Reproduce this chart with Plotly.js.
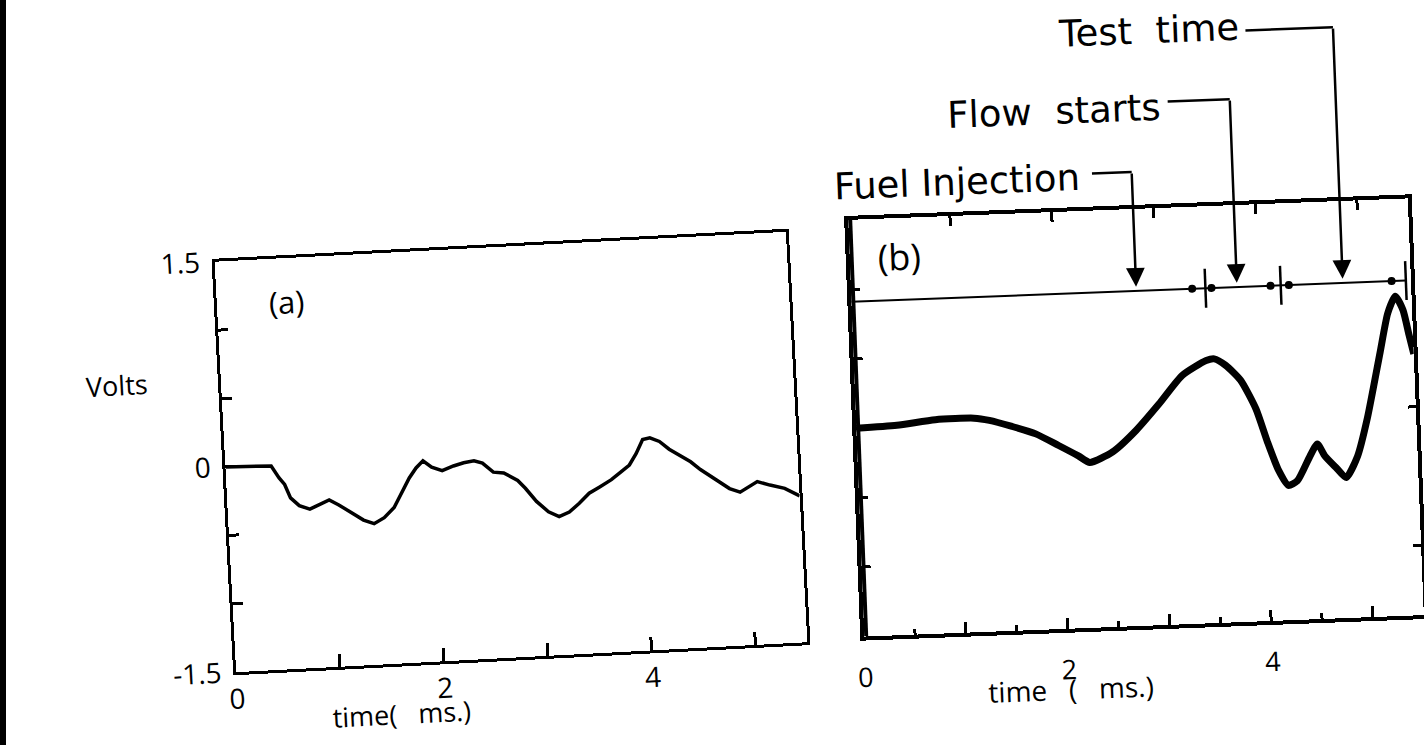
<!DOCTYPE html>
<html>
<head>
<meta charset="utf-8">
<script src="https://cdn.plot.ly/plotly-3.0.1.min.js"></script>
<style>
html,body{margin:0;padding:0;background:#fff;width:1424px;height:745px;overflow:hidden;}
#edge{position:absolute;left:0;top:0;width:6px;height:745px;background:#000;}
.panel{position:absolute;left:0;top:0;width:1424px;height:745px;}
#panelA{transform-origin:511px 452px;transform:rotate(-3deg);}
#panelB{transform-origin:1136px 417.5px;transform:rotate(-2.2deg);}
</style>
</head>
<body>
<div id="edge"></div>
<div id="panelA" class="panel"></div>
<div id="panelB" class="panel"></div>
<script>
// ---------- data: panel (a) ----------
const timeA = [0, 0.44, 0.51, 0.56, 0.61, 0.69, 0.79, 0.89, 0.98, 1.07, 1.17, 1.30, 1.40, 1.50, 1.60, 1.68, 1.76, 1.83, 1.90, 1.98, 2.08, 2.19, 2.29, 2.39, 2.47, 2.57, 2.67, 2.80, 2.87, 2.97, 3.08, 3.18, 3.28, 3.38, 3.48, 3.58, 3.70, 3.79, 3.88, 3.95, 4.02, 4.09, 4.18, 4.27, 4.37, 4.47, 4.56, 4.70, 4.83, 4.93, 5.01, 5.10, 5.22, 5.36, 5.50];
const voltsA = [0, -0.01, -0.10, -0.15, -0.25, -0.31, -0.34, -0.31, -0.28, -0.32, -0.37, -0.44, -0.47, -0.43, -0.36, -0.25, -0.15, -0.08, -0.03, -0.08, -0.11, -0.08, -0.06, -0.05, -0.07, -0.14, -0.15, -0.21, -0.27, -0.37, -0.45, -0.49, -0.46, -0.40, -0.33, -0.29, -0.24, -0.19, -0.14, -0.06, 0.04, 0.05, 0.02, -0.04, -0.09, -0.14, -0.20, -0.28, -0.35, -0.38, -0.35, -0.31, -0.34, -0.37, -0.43];

// ---------- data: panel (b) ----------
const timeB = [0, 0.40, 0.78, 1.16, 1.31, 1.53, 1.76, 1.98, 2.17, 2.28, 2.51, 2.75, 2.98, 3.22, 3.46, 3.54, 3.65, 3.79, 3.93, 4.03, 4.13, 4.22, 4.31, 4.44, 4.52, 4.59, 4.70, 4.79, 4.91, 5.02, 5.17, 5.26, 5.34, 5.41, 5.46, 5.50];
const voltsB = [0.00, 0.01, 0.04, 0.04, 0.02, -0.03, -0.09, -0.18, -0.26, -0.31, -0.24, -0.09, 0.09, 0.29, 0.39, 0.40, 0.35, 0.24, 0.03, -0.21, -0.42, -0.53, -0.50, -0.33, -0.24, -0.33, -0.42, -0.49, -0.34, -0.07, 0.40, 0.68, 0.80, 0.70, 0.52, 0.38];

// event marker line in (b)
const eventLevel = 0.91;
const eventLineEnd = 5.45;
const eventBarTimes = [3.48, 4.22, 5.45];
const eventDotTimes = [3.35, 3.54, 4.12, 4.30, 5.31];
const eventArrowTimes = [2.80, 3.79, 4.83];
const eventLabels = ["Fuel Injection", "Flow  starts", "Test  time"];

// ticks
const yTickVals = [-1.5, -1, -0.5, 0, 0.5, 1, 1.5];
const yTickTextA = ["-1.5", "", "", "0", "", "", "1.5"];
const xTickValsA = [0, 1, 2, 3, 4, 5];
const xTickTextA = ["0", "", "2", "", "4", ""];
const xTickValsB = [0, 1, 2, 3, 4, 5];
const xTickTextB = ["0", "", "2", "", "4", ""];
const xMinorValsB = [0.5, 1.5, 2.5, 3.5, 4.5];
const yTickValsB = [-1, -0.5, 0, 0.5, 1];
const yRightTickValsB = [-1, 0];

// ---------- layout helpers ----------
const W = 1424, H = 745;
const FONT = "Open Sans, DejaVu Sans, sans-serif";
const LFONT = "DejaVu Sans, sans-serif";
const K = '#000';
const cfg = {staticPlot: true, displayModeBar: false};

// ---------- panel (a) ----------
const layoutA = {
  width: W, height: H, margin: {l: 0, r: 0, t: 0, b: 0},
  paper_bgcolor: 'rgba(0,0,0,0)', plot_bgcolor: 'rgba(0,0,0,0)',
  showlegend: false,
  font: {family: FONT, color: K, size: 28},
  xaxis: {
    domain: [225 / W, 797 / W], range: [0, 5.5],
    tickmode: 'array', tickvals: xTickValsA, ticktext: xTickTextA,
    ticks: 'inside', ticklen: 13, tickwidth: 3, tickcolor: K,
    showline: true, linewidth: 3, linecolor: K, mirror: true,
    showgrid: false, zeroline: false, tickfont: {size: 28, family: FONT},
    ticklabelstandoff: 0
  },
  yaxis: {
    domain: [1 - 657.5 / H, 1 - 246.5 / H], range: [-1.5, 1.5],
    tickmode: 'array', tickvals: yTickVals, ticktext: yTickTextA,
    ticks: 'inside', ticklen: 10, tickwidth: 3, tickcolor: K,
    showline: true, linewidth: 3, linecolor: K, mirror: true,
    showgrid: false, zeroline: false, tickfont: {size: 28, family: FONT},
    ticklabelstandoff: 6
  },
  annotations: [
    {text: '(a)', xref: 'x', yref: 'y', x: 0.67, y: 1.18, xanchor: 'center', yanchor: 'middle', showarrow: false, font: {size: 31}},
    {text: 'Volts', xref: 'paper', yref: 'paper', x: 121 / W, y: 1 - 364 / H, xanchor: 'center', yanchor: 'middle', showarrow: false, font: {size: 27}},
    {text: 'time(&nbsp;&nbsp;&nbsp;ms.)', xref: 'paper', yref: 'paper', x: 388 / W, y: 1 - 707 / H, xanchor: 'center', yanchor: 'middle', showarrow: false, font: {size: 27}}
  ]
};
const tracesA = [
  {x: timeA, y: voltsA, mode: 'lines', line: {color: K, width: 3.5}, hoverinfo: 'skip'}
];
Plotly.newPlot('panelA', tracesA, layoutA, cfg);

// ---------- panel (b) ----------
const yPx = v => 626 - (v + 1.5) * 139;        // pixel height of a level, for arrow tail offsets
const headLevel = eventLevel + 0.03;
const leaderPx = [172, 103, 35];
const leaderStart = [2.41, 3.18, 3.97];
const labelRight = [2.31, 3.12, 3.93];
const labelPx = [176, 108, 31];

const barX = [], barY = [];
eventBarTimes.forEach(t => { barX.push(t, t, null); barY.push(eventLevel - 0.14, eventLevel + 0.14, null); });

const annB = [
  {text: '(b)', xref: 'x', yref: 'y', x: 0.49, y: 1.22, xanchor: 'center', yanchor: 'middle', showarrow: false, font: {size: 36}},
  {text: 'time&nbsp;&nbsp;&nbsp;(&nbsp;&nbsp;&nbsp;ms.)', xref: 'paper', yref: 'paper', x: 1060 / W, y: 1 - 686 / H, xanchor: 'center', yanchor: 'middle', showarrow: false, font: {size: 28}}
];
const shapesB = [
  {type: 'line', xref: 'x', yref: 'y', x0: 0, x1: 0, y0: -1.5, y1: 1.5, line: {color: K, width: 8}}
];
eventArrowTimes.forEach((t, i) => {
  annB.push({
    text: '', xref: 'x', yref: 'y', x: t, y: headLevel,
    axref: 'pixel', ayref: 'pixel', ax: 0, ay: -(yPx(headLevel) - leaderPx[i]),
    showarrow: true, arrowhead: 2, arrowsize: 1.5, arrowwidth: 2.5, arrowcolor: K
  });
  annB.push({
    text: eventLabels[i], xref: 'x', yref: 'paper', x: labelRight[i], y: 1 - labelPx[i] / H,
    xanchor: 'right', yanchor: 'middle', showarrow: false, font: {size: 37, family: LFONT}
  });
  shapesB.push({type: 'line', xref: 'x', yref: 'paper', x0: leaderStart[i], x1: t,
    y0: 1 - leaderPx[i] / H, y1: 1 - leaderPx[i] / H, line: {color: K, width: 2.5}});
});

const layoutB = {
  width: W, height: H, margin: {l: 0, r: 0, t: 0, b: 0},
  paper_bgcolor: 'rgba(0,0,0,0)', plot_bgcolor: 'rgba(0,0,0,0)',
  showlegend: false,
  font: {family: FONT, color: K, size: 28},
  xaxis: {
    domain: [856 / W, 1416 / W], range: [0, 5.5],
    tickmode: 'array', tickvals: xTickValsB, ticktext: xTickTextB,
    ticks: 'inside', ticklen: 11, tickwidth: 3, tickcolor: K,
    minor: {tickmode: 'array', tickvals: xMinorValsB, ticks: 'inside', ticklen: 6, tickwidth: 3, tickcolor: K, showgrid: false},
    showline: true, linewidth: 4, linecolor: K, mirror: true,
    showgrid: false, zeroline: false, tickfont: {size: 27, family: FONT},
    ticklabelstandoff: 14
  },
  xaxis2: {
    overlaying: 'x', side: 'top', anchor: 'y', range: [0, 5.5],
    tickmode: 'array', tickvals: [1, 2, 3, 4, 5],
    ticks: 'inside', ticklen: 10, tickwidth: 3, tickcolor: K,
    showticklabels: false, showline: false, showgrid: false, zeroline: false
  },
  yaxis: {
    domain: [1 - 626 / H, 1 - 209 / H], range: [-1.5, 1.5],
    tickmode: 'array', tickvals: yTickValsB,
    ticks: 'inside', ticklen: 9, tickwidth: 3, tickcolor: K,
    showticklabels: false,
    showline: true, linewidth: 4, linecolor: K, mirror: true,
    showgrid: false, zeroline: false
  },
  yaxis2: {
    overlaying: 'y', side: 'right', anchor: 'x', range: [-1.5, 1.5],
    tickmode: 'array', tickvals: yRightTickValsB,
    ticks: 'inside', ticklen: 8, tickwidth: 3, tickcolor: K,
    showticklabels: false, showline: false, showgrid: false, zeroline: false
  },
  shapes: shapesB,
  annotations: annB
};
const tracesB = [
  {x: timeB, y: voltsB, mode: 'lines', line: {color: K, width: 7, shape: 'spline', smoothing: 0.6}, hoverinfo: 'skip'},
  {x: [0, eventLineEnd], y: [eventLevel, eventLevel], mode: 'lines', line: {color: K, width: 2}, hoverinfo: 'skip'},
  {x: barX, y: barY, mode: 'lines', line: {color: K, width: 2.5}, hoverinfo: 'skip'},
  {x: eventDotTimes, y: eventDotTimes.map(() => eventLevel), mode: 'markers', marker: {color: K, size: 8, symbol: 'circle'}, hoverinfo: 'skip'},
  {x: [], y: [], xaxis: 'x2', yaxis: 'y', mode: 'lines', hoverinfo: 'skip'},
  {x: [], y: [], xaxis: 'x', yaxis: 'y2', mode: 'lines', hoverinfo: 'skip'}
];
Plotly.newPlot('panelB', tracesB, layoutB, cfg);
</script>
</body>
</html>
